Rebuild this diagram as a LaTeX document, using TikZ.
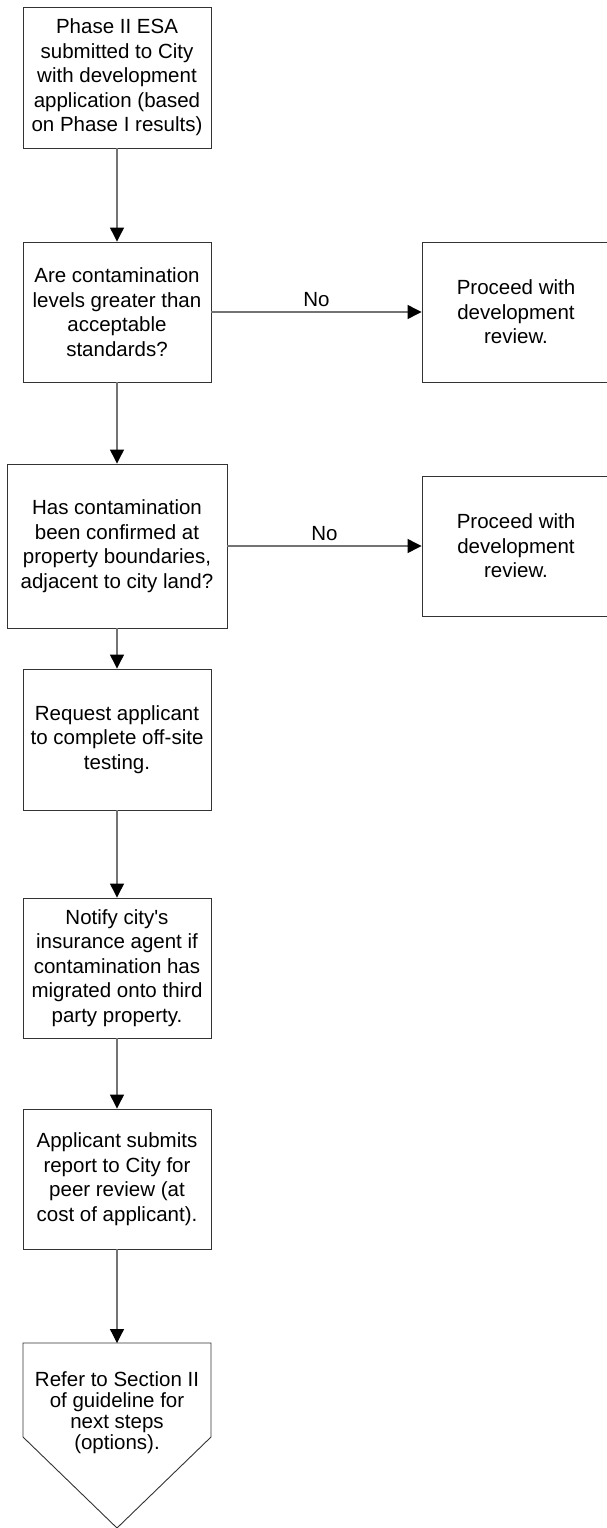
\documentclass[tikz,border=0pt]{standalone}
\usepackage{fontspec}
\setmainfont{Liberation Sans}[Ligatures=TeXOff]
\usetikzlibrary{arrows.meta}
\begin{document}
\begin{tikzpicture}[x=1pt,y=-1pt,
  boxnode/.style={draw=black!80, line width=0.9pt, rectangle, inner sep=0pt,
    minimum width=188pt, minimum height=140pt, align=center,
    font=\fontsize{20.5}{24.5}\selectfont},
  conn/.style={draw=black!55, line width=1.2pt,
    -{Triangle[black, length=14pt, width=14pt]}},
  lbl/.style={inner sep=0pt, font=\fontsize{20.5}{24.5}\selectfont}
]
\useasboundingbox (0,0) rectangle (607,1528);
\fill[white] (0,0) rectangle (607,1528);

\node[boxnode, minimum height=141pt] (b1) at (117,77.5) {Phase II ESA\\submitted to City\\with development\\application (based\\on Phase I results)};
\node[boxnode] (b2) at (117,312) {Are contamination\\levels greater than\\acceptable\\standards?};
\node[boxnode] (r1) at (516,312) {Proceed with\\development\\review.};
\node[boxnode, minimum width=220pt, minimum height=164pt] (b3) at (117,546) {Has contamination\\been confirmed at\\property boundaries,\\adjacent to city land?};
\node[boxnode] (r2) at (516,546) {Proceed with\\development\\review.};
\node[boxnode, minimum height=141pt] (b4) at (117,739.5) {Request applicant\\to complete off-site\\testing.};
\node[boxnode] (b5) at (117,968) {Notify city's\\insurance agent if\\contamination has\\migrated onto third\\party property.};
\node[boxnode] (b6) at (117,1179) {Applicant submits\\report to City for\\peer review (at\\cost of applicant).};

\coordinate (ptl) at (23,1343);
\coordinate (ptop) at (117,1343);
\coordinate (ptr) at (211,1343);
\coordinate (psr) at (211,1437);
\coordinate (ptip) at (117,1528);
\coordinate (psl) at (23,1437);
\draw[draw=black!80, line width=0.9pt, fill=white] (ptl) -- (ptr) -- (psr) -- (ptip) -- (psl) -- cycle;
\node[align=center, inner sep=0pt, font=\fontsize{20.5}{21}\selectfont] (b7) at (117,1413) {Refer to Section II\\of guideline for\\next steps\\(options).};

\draw[conn] (b1) -- (b2);
\draw[conn] (b2) -- (b3);
\draw[conn] (b3) -- (b4);
\draw[conn] (b4) -- (b5);
\draw[conn] (b5) -- (b6);
\draw[conn] (b6.south) -- (ptop);
\draw[conn] (b2.east) -- node[lbl, midway, above=5pt] {No} (r1.west);
\draw[conn] (b3.east |- r2.west) -- node[lbl, midway, above=5pt] {No} (r2.west);
\end{tikzpicture}
\end{document}
